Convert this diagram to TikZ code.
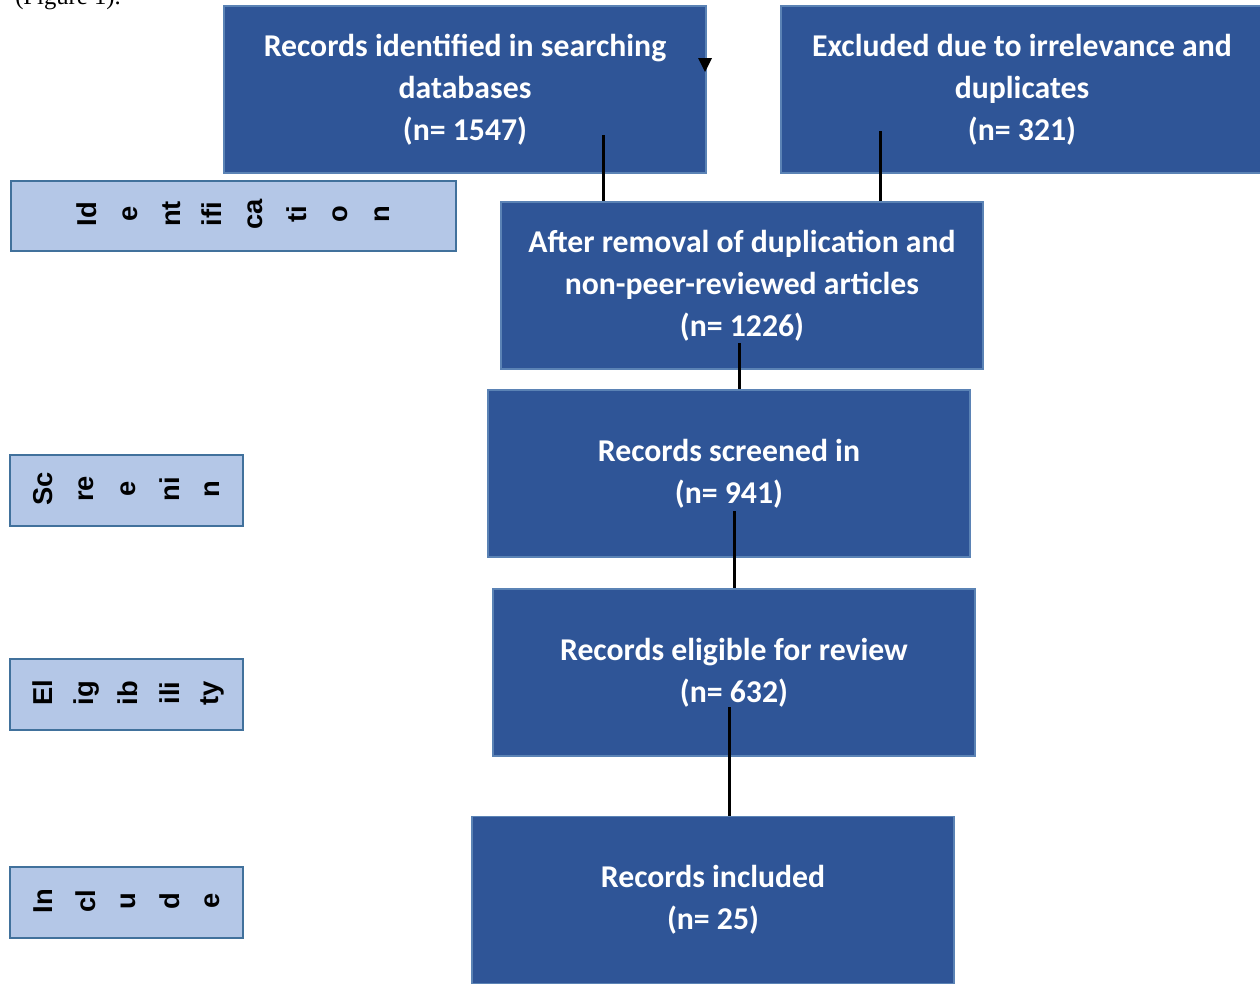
\documentclass[tikz,border=0pt]{standalone}
\usepackage{fontspec}
\setmainfont{Liberation Serif}
\newfontfamily\boxfontfam{Carlito}
\newfontfamily\labfontfam{Liberation Sans}
\definecolor{boxblue}{HTML}{2F5597}
\definecolor{boxedge}{HTML}{5B83B5}
\definecolor{labfill}{HTML}{B4C7E7}
\definecolor{labedge}{HTML}{41719C}
\begin{document}
\begin{tikzpicture}[x=0.75pt,y=-0.75pt,
  bluebox/.style={draw=boxedge, line width=1.2pt, fill=boxblue, text=white,
    font=\boxfontfam\bfseries\fontsize{23.8}{31.5}\selectfont, align=center,
    minimum width=361.5pt, minimum height=125.25pt, inner sep=0pt},
  labbox/.style={draw=labedge, line width=1.5pt, fill=labfill, inner sep=0pt},
  frag/.style={rotate=90, font=\labfontfam\bfseries\fontsize{20.5}{22}\selectfont, inner sep=0pt},
  conn/.style={line width=2.25pt, black}]
\useasboundingbox (0,0) rectangle (1260,983);
\clip (0,0) rectangle (1260,983);
% partial caption text at top
\node[anchor=base west, inner sep=0pt, font=\fontsize{18.5}{20}\selectfont] (cap) at (15,4) {(Figure 1).};
% main boxes
\node[bluebox] (b1) at (465,89.5) {Records identified in searching\\databases\\(n= 1547)};
\node[bluebox] (b2) at (1022,89.5) {Excluded due to irrelevance and\\duplicates\\(n= 321)};
\node[bluebox] (b3) at (742,285.5) {After removal of duplication and\\non-peer-reviewed articles\\(n= 1226)};
\node[bluebox] (b4) at (729,473.5) {Records screened in\\(n= 941)};
\node[bluebox] (b5) at (734,672.5) {Records eligible for review\\(n= 632)};
\node[bluebox] (b6) at (713,900) {Records included\\(n= 25)};
% connectors
\coordinate (c1) at (603,135);
\coordinate (c2) at (880,131);
\coordinate (c3) at (739,343);
\coordinate (c4) at (734,511);
\coordinate (c5) at (729,707);
\draw[conn] (c1) -- (c1 |- b3.north);
\draw[conn] (c2) -- (c2 |- b3.north);
\draw[conn] (c3) -- (c3 |- b4.north);
\draw[conn] (c4) -- (c4 |- b5.north);
\draw[conn] (c5) -- (c5 |- b6.north);
% stray arrow tip
\fill[black] (698,58) -- (712,58) -- (705,72) -- cycle;
% stage labels
\node[labbox, minimum width=333.75pt, minimum height=52.5pt] (l1) at (233.5,216) {};
\node[frag] (l1a) at (87,214) {Id};
\node[frag] (l1b) at (130,214) {e};
\node[frag] (l1c) at (172,214) {nt};
\node[frag] (l1d) at (212,214) {ifi};
\node[frag] (l1e) at (255,214) {ca};
\node[frag] (l1f) at (297,214) {ti};
\node[frag] (l1g) at (340,214) {o};
\node[frag] (l1h) at (382,214) {n};
\node[labbox, minimum width=174.75pt, minimum height=53.25pt] (l2) at (126.5,490.5) {};
\node[frag] (l2a) at (43,489) {Sc};
\node[frag] (l2b) at (86,489) {re};
\node[frag] (l2c) at (128,489) {e};
\node[frag] (l2d) at (170,489) {ni};
\node[frag] (l2e) at (212,489) {n};
\node[labbox, minimum width=174.75pt, minimum height=53.25pt] (l3) at (126.5,694.5) {};
\node[frag] (l3a) at (43,693) {El};
\node[frag] (l3b) at (86,693) {ig};
\node[frag] (l3c) at (128,693) {ib};
\node[frag] (l3d) at (170,693) {ili};
\node[frag] (l3e) at (212,693) {ty};
\node[labbox, minimum width=174.75pt, minimum height=53.25pt] (l4) at (126.5,902.5) {};
\node[frag] (l4a) at (43,901) {In};
\node[frag] (l4b) at (86,901) {cl};
\node[frag] (l4c) at (128,901) {u};
\node[frag] (l4d) at (170,901) {d};
\node[frag] (l4e) at (212,901) {e};
\end{tikzpicture}
\end{document}
